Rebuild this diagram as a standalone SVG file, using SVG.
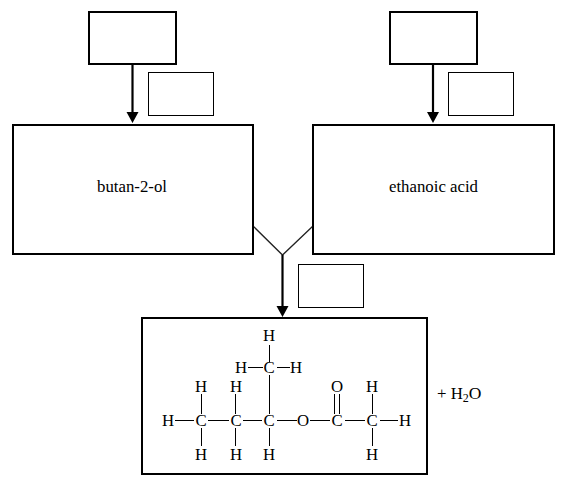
<svg xmlns="http://www.w3.org/2000/svg" width="561" height="478" viewBox="0 0 561 478">
<style>
.b{fill:#fff;stroke:#000;stroke-width:2}
.s{fill:#fff;stroke:#000;stroke-width:1}
.c{fill:none;stroke:#000;stroke-width:2.200}
.v{fill:none;stroke:#222;stroke-width:1.3}
.bd{fill:none;stroke:#000;stroke-width:1}
text{font-family:"Liberation Serif","Times New Roman",serif;font-size:16.800px;fill:#000}
.m{text-anchor:middle}
</style>
<rect width="561" height="478" fill="#fff"/>
<g id="connectors">
<path class="c" d="M132.500 64V113"/>
<path class="c" d="M433 64V113"/>
<path class="v" d="M253 226L282.500 255L313 226"/>
<path class="c" d="M282.500 255V307"/>
<path d="M126.500 112H138.500L132.500 123Z M427 112H439L433 123Z M276.500 306H288.500L282.500 317Z" fill="#000"/>
</g>
<g id="n1"><rect class="b" x="89" y="12" width="87" height="52"/></g>
<g id="n2"><rect class="b" x="390" y="12" width="87" height="52"/></g>
<g id="l1"><rect class="s" x="148.500" y="72.500" width="65" height="43"/></g>
<g id="l2"><rect class="s" x="448.500" y="72.500" width="65" height="43"/></g>
<g id="l3"><rect class="s" x="298.500" y="264.500" width="65" height="43"/></g>
<g id="butanol"><rect class="b" x="13" y="125" width="240" height="129"/><text class="m" x="132" y="192">butan-2-ol</text></g>
<g id="acid"><rect class="b" x="313" y="125" width="241" height="129"/><text class="m" x="433.500" y="192">ethanoic acid</text></g>
<g id="ester"><rect class="b" x="142" y="318" width="285" height="156"/>
<path class="bd" d="M269.500 345V362M269.500 375V414M269.500 428V446M248 367.500H263M277 367.500H290M175 420.500H194M208 420.500H229M243 420.500H262M277 420.500H297M310 420.500H330M345 420.500H365M380 420.500H398M201.500 394V414M201.500 428V446M235.500 394V414M235.500 428V446M334.500 394V414M339.500 394V414M372.500 394V414M372.500 428V446"/>
<g class="m">
<text x="269" y="341">H</text>
<text x="241" y="373">H</text><text x="269" y="373">C</text><text x="296" y="373">H</text>
<text x="201" y="392">H</text><text x="236" y="392">H</text><text x="337" y="392">O</text><text x="372" y="392">H</text>
<text x="168" y="426">H</text><text x="201" y="426">C</text><text x="236" y="426">C</text><text x="269" y="426">C</text><text x="303" y="426">O</text><text x="337" y="426">C</text><text x="372" y="426">C</text><text x="405" y="426">H</text>
<text x="201" y="460">H</text><text x="236" y="460">H</text><text x="269" y="460">H</text><text x="372" y="460">H</text>
</g></g>
<g id="water"><text x="437" y="399">+ H<tspan font-size="12" dy="3">2</tspan><tspan font-size="17.500" dy="-3">O</tspan></text></g>
</svg>
